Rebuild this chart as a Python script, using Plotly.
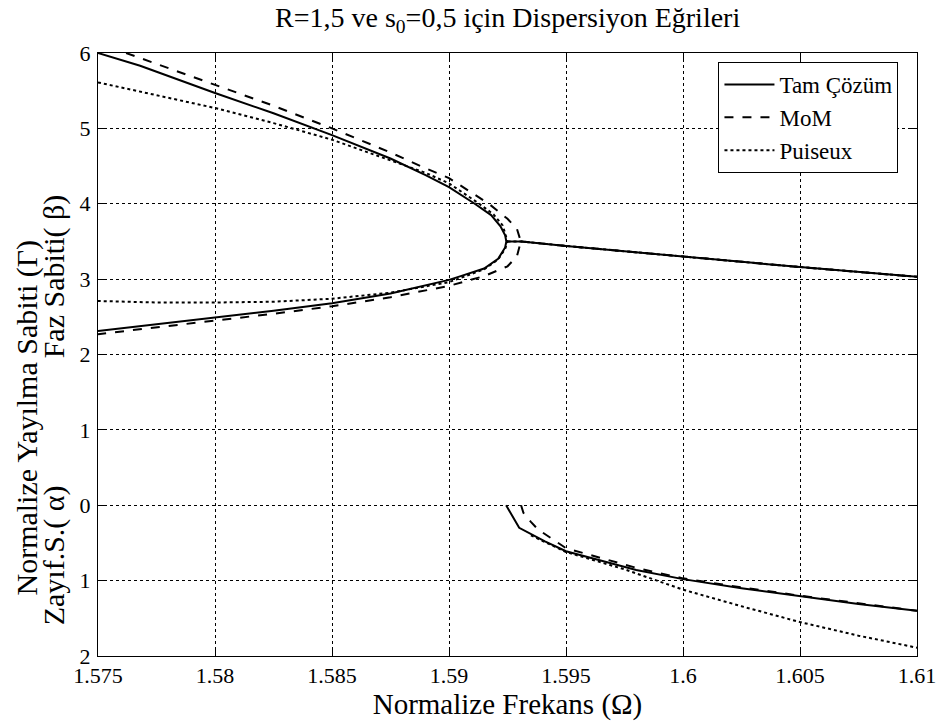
import plotly.graph_objects as go

# ---------------- data ----------------
# Tam Çözüm (exact) – beta, upper branch then lower branch (one closed curve)
tam_beta_x = [1.575, 1.5768, 1.58, 1.5825, 1.585, 1.5875, 1.589, 1.590, 1.5911, 1.5918, 1.5922, 1.5924, 1.59245,
              1.5924, 1.5921, 1.5915, 1.5905, 1.590, 1.5875, 1.585, 1.5825, 1.58, 1.5775, 1.575]
tam_beta_y = [6.0, 5.83, 5.47, 5.20, 4.91, 4.60, 4.38, 4.22, 4.0, 3.85, 3.70, 3.58, 3.50,
              3.42, 3.27, 3.14, 3.04, 2.99, 2.81, 2.68, 2.58, 2.49, 2.40, 2.31]
tam_line_x = [1.59245, 1.5931, 1.595, 1.6, 1.605, 1.61]
tam_line_y = [3.50, 3.50, 3.44, 3.30, 3.16, 3.03]
tam_alpha_x = [1.59244, 1.5930, 1.5941, 1.595, 1.598, 1.6, 1.6025, 1.605, 1.6075, 1.61]
tam_alpha_y = [0.0, -0.30, -0.48, -0.61, -0.86, -0.98, -1.10, -1.21, -1.31, -1.40]

# MoM
mom_beta_x = [1.5762, 1.578, 1.58, 1.5825, 1.585, 1.5875, 1.589, 1.590, 1.5917, 1.5925, 1.5929, 1.59307,
              1.5929, 1.5925, 1.5915, 1.590, 1.5875, 1.585, 1.5825, 1.58, 1.5775, 1.575]
mom_beta_y = [6.0, 5.80, 5.58, 5.30, 5.0, 4.68, 4.47, 4.34, 4.0, 3.80, 3.67, 3.50,
              3.30, 3.17, 3.04, 2.91, 2.76, 2.64, 2.54, 2.45, 2.36, 2.27]
mom_line_x = [1.59307, 1.595, 1.6, 1.605, 1.61]
mom_line_y = [3.50, 3.44, 3.30, 3.16, 3.03]
mom_alpha_x = [1.59308, 1.59318, 1.5935, 1.5938, 1.595, 1.598, 1.6, 1.6025, 1.605, 1.6075, 1.61]
mom_alpha_y = [0.0, -0.10, -0.22, -0.32, -0.57, -0.83, -0.97, -1.09, -1.20, -1.30, -1.40]

# Puiseux
pui_beta_x = [1.575, 1.5775, 1.58, 1.5825, 1.585, 1.587, 1.589, 1.590, 1.5912, 1.5919, 1.5923, 1.5925,
              1.5924, 1.5921, 1.5915, 1.590, 1.589, 1.5875, 1.585, 1.5825, 1.58, 1.5775, 1.575]
pui_beta_y = [5.61, 5.44, 5.27, 5.07, 4.85, 4.63, 4.41, 4.27, 4.02, 3.86, 3.71, 3.50,
              3.40, 3.26, 3.13, 2.96, 2.90, 2.82, 2.74, 2.70, 2.69, 2.69, 2.71]
pui_line_x = [1.5925, 1.5931, 1.595, 1.6, 1.605, 1.61]
pui_line_y = [3.50, 3.50, 3.44, 3.30, 3.16, 3.03]
pui_alpha_x = [1.5935, 1.595, 1.5975, 1.6, 1.6025, 1.605, 1.6075, 1.61]
pui_alpha_y = [-0.40, -0.62, -0.85, -1.12, -1.34, -1.55, -1.73, -1.89]

x_ticks = [1.575, 1.58, 1.585, 1.59, 1.595, 1.6, 1.605, 1.61]
x_tick_text = ["1.575", "1.58", "1.585", "1.59", "1.595", "1.6", "1.605", "1.61"]
y_ticks = [-2, -1, 0, 1, 2, 3, 4, 5, 6]
y_tick_text = ["2", "1", "0", "1", "2", "3", "4", "5", "6"]

# ---------------- figure ----------------
FONT = "Liberation Serif"
TICK_FS = 22
TITLE_FS = 28
XLAB_FS = 29
YLAB_FS = 30
LEG_FS = 23

# plot-area pixel geometry
L, R, T, B = 98, 25, 53, 68
PW, PH = 948 - L - R, 724 - T - B


def px_x(px):
    return (px - L) / PW


def px_y(py):
    return (724 - B - py) / PH


def join(*segs):
    xs, ys = [], []
    for i, (sx, sy) in enumerate(segs):
        if i:
            xs.append(None)
            ys.append(None)
        xs += sx
        ys += sy
    return xs, ys


fig = go.Figure()
series = [
    ("Tam Çözüm", "solid", [(tam_beta_x, tam_beta_y), (tam_line_x, tam_line_y), (tam_alpha_x, tam_alpha_y)]),
    ("MoM", "dash", [(mom_beta_x, mom_beta_y), (mom_line_x, mom_line_y), (mom_alpha_x, mom_alpha_y)]),
    ("Puiseux", "dot", [(pui_beta_x, pui_beta_y), (pui_line_x, pui_line_y), (pui_alpha_x, pui_alpha_y)]),
]
for name, dash, segs in series:
    xs, ys = join(*segs)
    fig.add_trace(go.Scatter(x=xs, y=ys, mode="lines", name=name,
                             line=dict(color="black", width=2, dash=dash),
                             connectgaps=False))

axis_common = dict(showline=True, linecolor="black", linewidth=1, mirror="ticks",
                   ticks="inside", ticklen=7, tickcolor="black",
                   showgrid=True, gridcolor="black", griddash="dot", gridwidth=1,
                   zeroline=False, tickfont=dict(family=FONT, size=TICK_FS, color="black"))

fig.update_layout(
    width=948, height=724,
    margin=dict(l=L, r=R, t=T, b=B),
    paper_bgcolor="white", plot_bgcolor="white",
    font=dict(family=FONT, size=TICK_FS, color="black"),
    xaxis=dict(range=[1.575, 1.61], tickvals=x_ticks, ticktext=x_tick_text,
               title=dict(text="Normalize Frekans (Ω)", standoff=0, font=dict(family=FONT, size=XLAB_FS)),
               **axis_common),
    yaxis=dict(range=[-2, 6], tickvals=y_ticks, ticktext=y_tick_text, ticklabelstandoff=2, **axis_common),
    legend=dict(x=px_x(723), y=px_y(62), xanchor="left", yanchor="top",
                bgcolor="white", bordercolor="black", borderwidth=1, itemwidth=50,
                font=dict(family=FONT, size=LEG_FS), tracegroupgap=0),
    showlegend=True,
)

fig.add_annotation(text="R=1,5 ve s<sub>0</sub>=0,5 için Dispersiyon Eğrileri",
                   xref="paper", yref="paper", x=px_x(511), y=px_y(20),
                   xanchor="center", yanchor="middle", showarrow=False,
                   font=dict(family=FONT, size=TITLE_FS))
fig.add_annotation(text="Normalize Yayılma Sabiti (Γ)", textangle=-90,
                   xref="paper", yref="paper", x=px_x(26), y=px_y(418),
                   xanchor="center", yanchor="middle", showarrow=False,
                   font=dict(family=FONT, size=YLAB_FS))
fig.add_annotation(text="Faz Sabiti( β)", textangle=-90,
                   xref="paper", yref="paper", x=px_x(54), y=px_y(276),
                   xanchor="center", yanchor="middle", showarrow=False,
                   font=dict(family=FONT, size=YLAB_FS))
fig.add_annotation(text="Zayıf.S.( α)", textangle=-90,
                   xref="paper", yref="paper", x=px_x(54), y=px_y(555),
                   xanchor="center", yanchor="middle", showarrow=False,
                   font=dict(family=FONT, size=YLAB_FS))

fig.write_html("out.html")
